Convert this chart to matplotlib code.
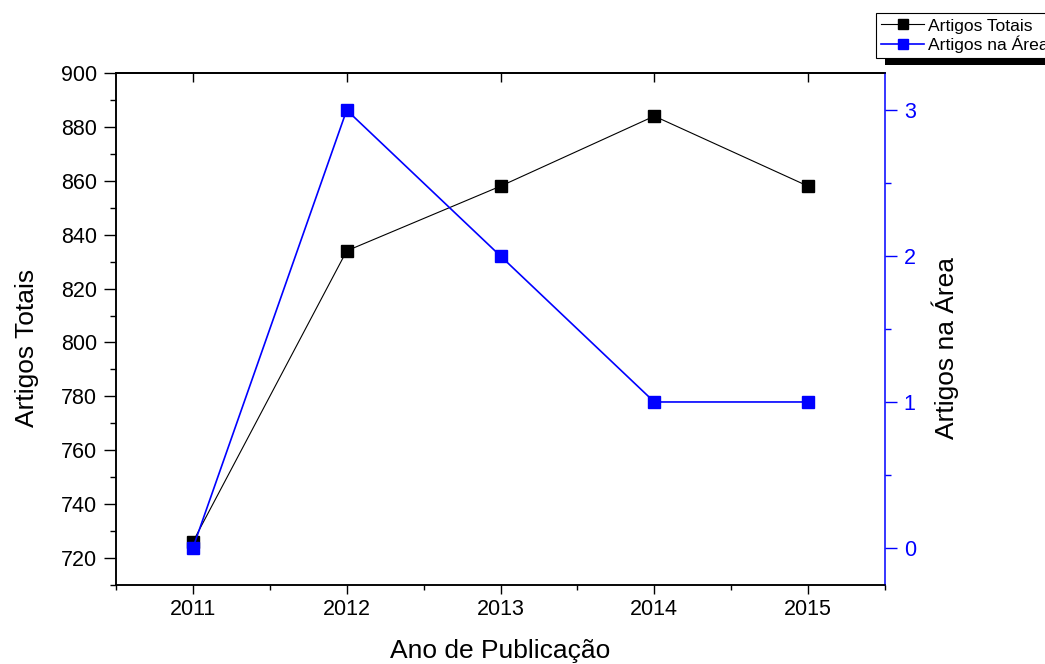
import matplotlib.pyplot as plt
from matplotlib.ticker import MultipleLocator, NullLocator
from matplotlib.lines import Line2D
from matplotlib.patches import Rectangle

plt.rcParams['font.family'] = ['Liberation Sans', 'DejaVu Sans']

# dados
anos = [2011, 2012, 2013, 2014, 2015]
artigos_totais = [726, 834, 858, 884, 858]
artigos_area = [0, 3, 2, 1, 1]

W, H = 1045, 664
fig = plt.figure(figsize=(W / 100, H / 100), dpi=100)
ax = fig.add_axes([116 / W, 1 - 585 / H, (885 - 116) / W, (585 - 73) / H])
ax2 = ax.twinx()

ax.plot(anos, artigos_totais, color='black', lw=0.8, marker='s', ms=8,
        mec='black', mfc='black')
ax2.plot(anos, artigos_area, color='blue', lw=1.2, marker='s', ms=8,
         mec='blue', mfc='blue')

ax.set_xlim(2010.5, 2015.5)
ax.set_ylim(710, 900)
ax2.set_ylim(-0.254, 3.254)

ax.set_xticks(anos)
ax.set_xticklabels([str(a) for a in anos])
ax.xaxis.set_minor_locator(MultipleLocator(0.5))
ax.yaxis.set_major_locator(MultipleLocator(20))
ax.yaxis.set_minor_locator(MultipleLocator(10))
ax2.yaxis.set_major_locator(MultipleLocator(1))
ax2.yaxis.set_minor_locator(MultipleLocator(0.5))

for s in ax.spines.values():
    s.set_linewidth(1.1)
ax.spines['right'].set_visible(False)
for s in ax2.spines.values():
    s.set_linewidth(1.1)
ax2.spines['right'].set_color('blue')

ax.tick_params(axis='x', which='major', direction='out', length=6.5, width=1,
               labelsize=15.5, pad=3.5)
ax.tick_params(axis='x', which='minor', direction='out', length=3.5, width=1)
ax.tick_params(axis='y', which='major', direction='out', length=8.5, width=1,
               labelsize=15.5, pad=5)
ax.tick_params(axis='y', which='minor', direction='out', length=4, width=1)
ax2.tick_params(axis='y', which='major', direction='out', length=8.5, width=1,
                labelsize=15.5, pad=5, colors='blue')
ax2.tick_params(axis='y', which='minor', direction='out', length=4, width=1,
                colors='blue')

# ticks internos no topo
sec = ax.secondary_xaxis('top')
sec.set_xticks(anos)
sec.xaxis.set_minor_locator(NullLocator())
sec.tick_params(direction='in', length=6.5, width=1, labeltop=False)
sec.spines['top'].set_linewidth(1.1)

ax.set_xlabel('Ano de Publicação', fontsize=19)
ax.xaxis.set_label_coords(0.5, -0.105)
ax.set_ylabel('Artigos Totais', fontsize=19)
ax.yaxis.set_label_coords(-0.1, 0.463)
ax2.set_ylabel('Artigos na Área', fontsize=19, color='black')
ax2.yaxis.set_label_coords(1.06, 0.463)

# legenda
handles = [
    Line2D([], [], color='black', lw=0.8, marker='s', ms=7, mfc='black', mec='black'),
    Line2D([], [], color='blue', lw=1.2, marker='s', ms=7, mfc='blue', mec='blue'),
]
leg = fig.legend(handles, ['Artigos Totais', 'Artigos na Área'],
                 loc='upper left', bbox_to_anchor=(876 / W, 1 - 13 / H),
                 bbox_transform=fig.transFigure, borderaxespad=0,
                 fontsize=12.6, handlelength=2.45, handletextpad=0.2,
                 labelspacing=0.12, borderpad=0.3, fancybox=False,
                 framealpha=1, edgecolor='black')
leg.get_frame().set_linewidth(0.8)
leg.set_zorder(6)
fig.patches.append(Rectangle((885 / W, 1 - 65 / H), 0.5, 40 / H,
                             transform=fig.transFigure, facecolor='black',
                             edgecolor='none', zorder=5))

fig.savefig('out.png', dpi=100)
